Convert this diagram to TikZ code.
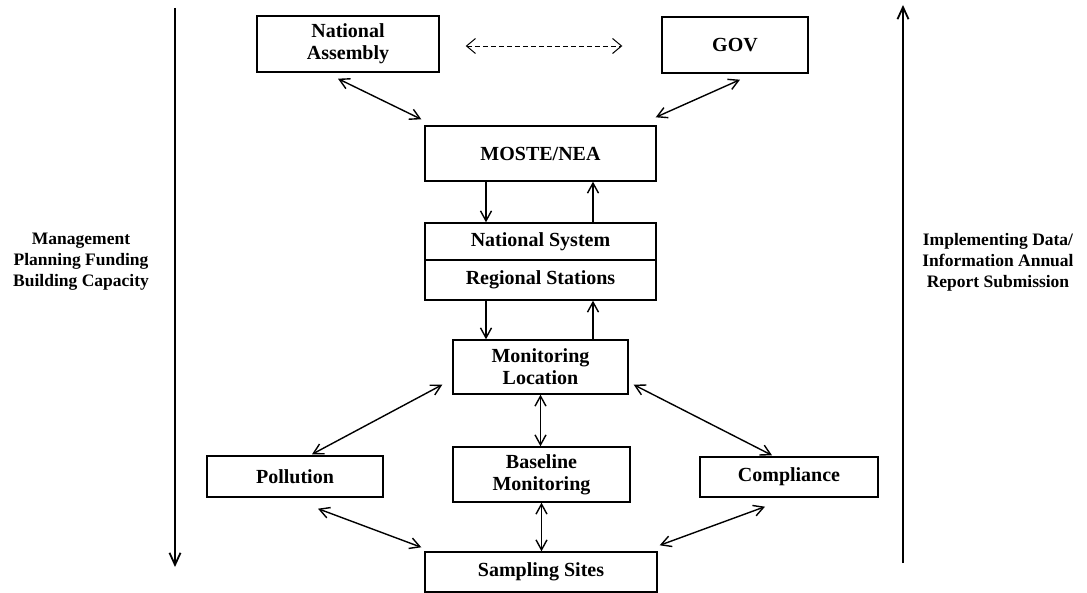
\documentclass[tikz,border=0pt]{standalone}
\usepackage{fontspec}
\setmainfont{Liberation Serif}
\usetikzlibrary{arrows.meta}
\tikzset{
  box/.style={draw, line width=1.4pt, inner sep=0pt, align=center,
    font=\fontsize{20}{22}\selectfont\bfseries},
  side/.style={align=center, inner sep=0pt, font=\fontsize{17.5}{21}\selectfont\bfseries},
  tip/.style={},
  link/.style={line width=1.4pt, {Straight Barb[length=10pt,width=11pt,line width=1.4pt]}-{Straight Barb[length=10pt,width=11pt,line width=1.4pt]}},
  oneway/.style={line width=1.4pt, -{Straight Barb[length=10pt,width=11pt,line width=1.4pt]}},
  dlink/.style={line width=0.9pt, dash pattern=on 5pt off 3pt, {Straight Barb[length=9pt,width=15pt,line width=1pt]}-{Straight Barb[length=9pt,width=15pt,line width=1pt]}},
  bigarrow/.style={line width=2pt, -{Straight Barb[length=12pt,width=11pt,line width=1.8pt]}}
}
\begin{document}
\begin{tikzpicture}[x=1pt,y=-1pt]
\useasboundingbox (0,0) rectangle (1087,593);
% boxes
\node[box, minimum width=182, minimum height=56] (NA) at (348,44) {National\\Assembly};
\node[box, minimum width=146, minimum height=56] (GOV) at (735,45) {GOV};
\node[box, minimum width=231, minimum height=55] (MO) at (540.5,153.5) {MOSTE/NEA};
\node[box, minimum width=231, minimum height=37] (NS) at (540.5,241.5) {National System};
\node[box, minimum width=231, minimum height=40] (RS) at (540.5,280) {Regional Stations};
\node[box, minimum width=175, minimum height=54] (ML) at (540.5,367) {Monitoring\\Location};
\node[box, minimum width=177, minimum height=55] (BM) at (541.5,474.5) {Baseline\\Monitoring};
\node[box, minimum width=176, minimum height=41] (PO) at (295,476.5) {Pollution};
\node[box, minimum width=178, minimum height=40] (CO) at (789,477) {Compliance};
\node[box, minimum width=232, minimum height=40] (SS) at (541,572) {Sampling Sites};
% side texts
\node[side] (LT) at (81,262) {Management\\Planning Funding\\Building Capacity};
\node[side] (RT) at (998,262) {Implementing Data/\\Information Annual\\Report Submission};
% big arrows
\coordinate (L1) at (175,8);
\coordinate (L2) at (175,567);
\coordinate (R1) at (903,563);
\coordinate (R2) at (903,5);
\draw[bigarrow] (L1) -- (L2);
\draw[bigarrow] (R1) -- (R2);
% connectors
\draw[dlink] ([shift={(26,2)}]NA.east) -- ([shift={(-39,1)}]GOV.west);
\draw[link] ([shift={(-10,6)}]NA.south) -- ([shift={(-3,-6)}]MO.north west);
\draw[link] ([shift={(5,6)}]GOV.south) -- ([shift={(-1,-8)}]MO.north east);
\draw[oneway] ([xshift=-54.5]MO.south) -- ([xshift=-54.5]NS.north);
\draw[oneway] ([xshift=52.5]NS.north) -- ([xshift=52.5]MO.south);
\draw[oneway] ([xshift=-54.5]RS.south) -- ([xshift=-54.5]ML.north);
\draw[oneway] ([xshift=52.5]ML.north) -- ([xshift=52.5]RS.south);
\draw[link] (ML.south) -- (ML.south |- BM.north);
\draw[link] (BM.south) -- (BM.south |- SS.north);
\draw[link] ([shift={(-10,-10)}]ML.south west) -- ([shift={(17,-1)}]PO.north);
\draw[link] ([shift={(5,-10)}]ML.south east) -- ([shift={(-17,-1)}]CO.north);
\draw[link] ([shift={(23,11)}]PO.south) -- ([shift={(-3,-4)}]SS.north west);
\draw[link] ([shift={(-24,9)}]CO.south) -- ([shift={(2,-6)}]SS.north east);
\end{tikzpicture}
\end{document}
